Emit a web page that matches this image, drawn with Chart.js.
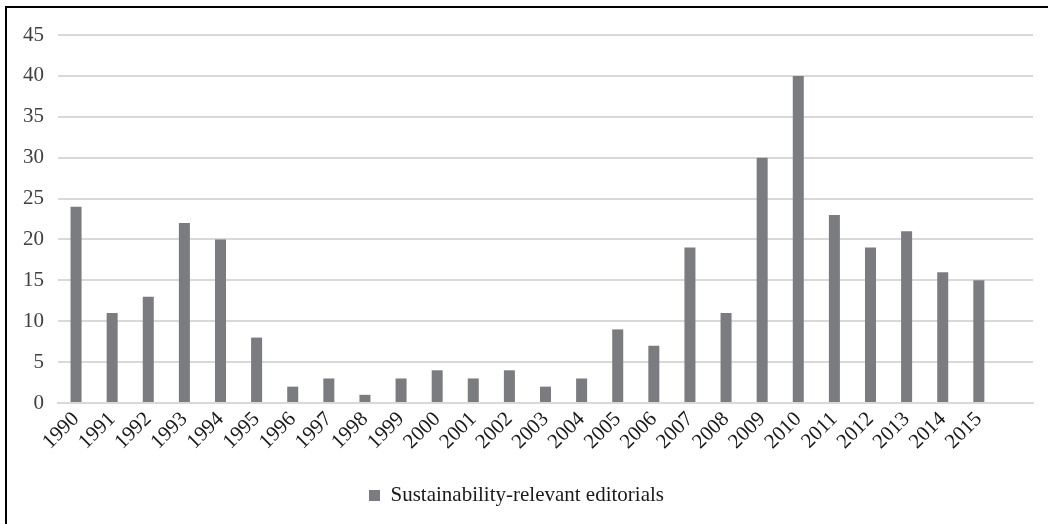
<!DOCTYPE html>
<html>
<head>
<meta charset="utf-8">
<script src="https://cdn.jsdelivr.net/npm/chart.js@4.4.1/dist/chart.umd.min.js"></script>
<style>
  html, body { margin: 0; padding: 0; background: #fff; overflow: hidden; }
  #wrap { position: relative; width: 1048px; height: 524px; }
  #frame { position: absolute; left: 5px; top: 6px; width: 1200px; height: 800px; border: 2.5px solid #000; box-sizing: border-box; pointer-events: none; }
</style>
</head>
<body>
<div id="wrap">
  <canvas id="c" width="1048" height="524"></canvas>
  <div id="frame"></div>
</div>
<script>
const years = ['1990','1991','1992','1993','1994','1995','1996','1997','1998','1999','2000','2001','2002','2003','2004','2005','2006','2007','2008','2009','2010','2011','2012','2013','2014','2015',''];
const editorials = [24,11,13,22,20,8,2,3,1,3,4,3,4,2,3,9,7,19,11,30,40,23,19,21,16,15,null];
const seriesName = 'Sustainability-relevant editorials';
const yTicks = [0,5,10,15,20,25,30,35,40,45];

const font = "'Liberation Serif', 'Times New Roman', serif";

new Chart(document.getElementById('c'), {
  type: 'bar',
  data: {
    labels: years,
    datasets: [{
      label: seriesName,
      data: editorials,
      backgroundColor: '#7b7c80',
      borderWidth: 0,
      categoryPercentage: 1,
      barPercentage: 0.305
    }]
  },
  options: {
    responsive: false,
    animation: false,
    layout: { padding: { left: 0, right: 15, top: 35, bottom: 8 } },
    plugins: {
      tooltip: { enabled: false },
      legend: {
        position: 'bottom',
        labels: {
          boxWidth: 11, boxHeight: 11, padding: 10,
          color: '#1a1a1a',
          font: { family: font, size: 21 }
        }
      }
    },
    scales: {
      x: {
        grid: { display: false, drawTicks: false },
        border: { display: true, color: '#d9d9d9', width: 2 },
        ticks: {
          color: '#1a1a1a', font: { family: font, size: 21 },
          minRotation: 45, maxRotation: 45, padding: 4, autoSkip: false
        },
        afterFit: (s) => { s.height = 72; }
      },
      y: {
        min: 0, max: 45,
        afterBuildTicks: (s) => { s.ticks = yTicks.map(v => ({ value: v })); },
        grid: { color: '#d9d9d9', lineWidth: 2, drawTicks: false },
        border: { display: false },
        ticks: { color: '#404040', font: { family: font, size: 21 }, padding: 14 },
        afterFit: (s) => { s.width = 58; }
      }
    }
  }
});
</script>
</body>
</html>
